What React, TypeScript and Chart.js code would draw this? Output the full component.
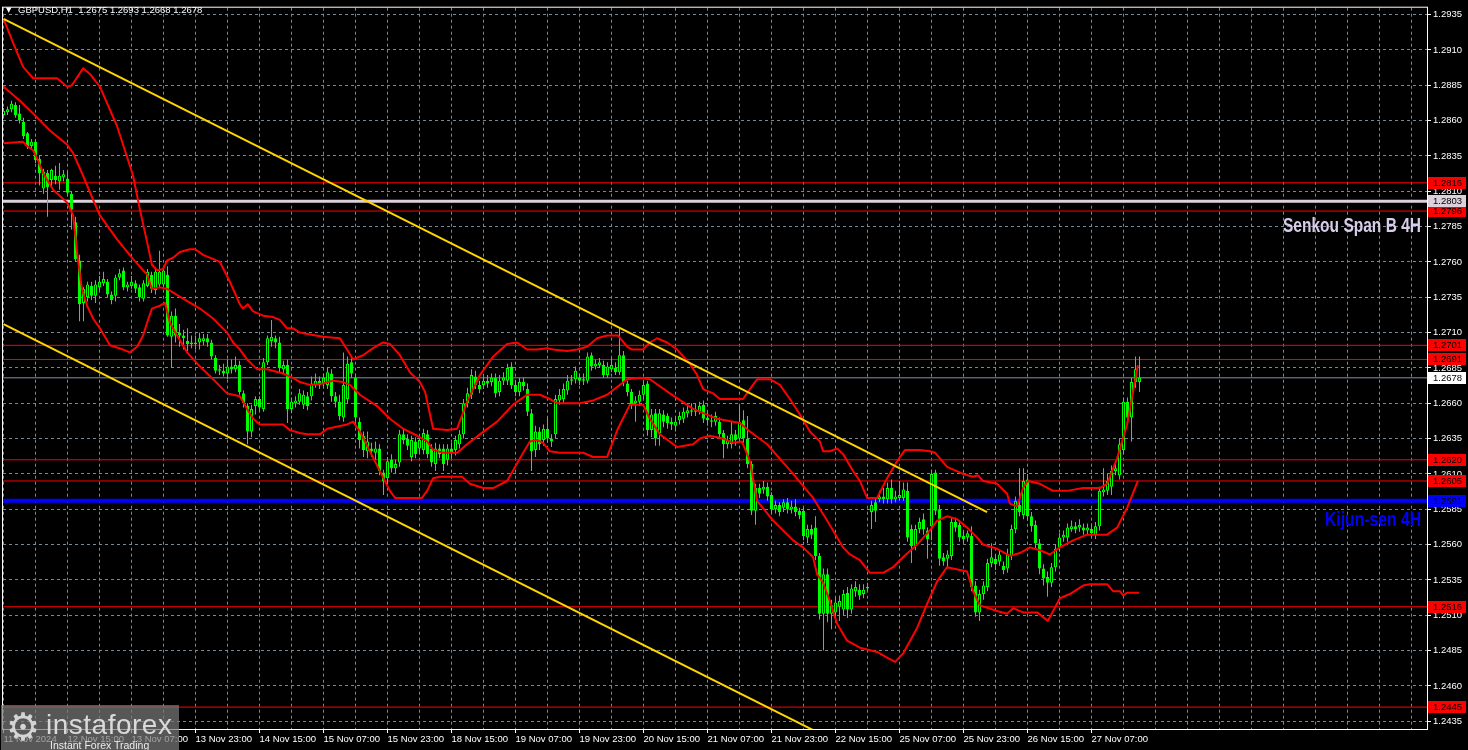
import React, { useEffect, useRef } from 'react';
import { Chart, registerables } from 'chart.js';

Chart.register(...registerables);

// ---------- candle data (GBPUSD H1, one bar per hour, index 0 = 11 Nov 23:00) ----------
const opens = [
  1.2864, 1.2866, 1.2868, 1.2871, 1.2865, 1.2859, 1.2851, 1.2842, 1.2845, 1.2833,
  1.2812, 1.2823, 1.2818, 1.2821, 1.2817, 1.2820, 1.2819, 1.2808, 1.2788, 1.2761,
  1.2731, 1.2735, 1.2743, 1.2736, 1.2742, 1.2745, 1.2746, 1.2737, 1.2736, 1.2749,
  1.2754, 1.2742, 1.2743, 1.2745, 1.2742, 1.2734, 1.2743, 1.2751, 1.2740, 1.2744,
  1.2744, 1.2751, 1.2707, 1.2722, 1.2710, 1.2708, 1.2704, 1.2702, 1.2703, 1.2703,
  1.2704, 1.2706, 1.2703, 1.2692, 1.2684, 1.2683, 1.2681, 1.2686, 1.2684, 1.2687,
  1.2667, 1.2658, 1.2640, 1.2658, 1.2663, 1.2656, 1.2689, 1.2704, 1.2706, 1.2703,
  1.2684, 1.2687, 1.2656, 1.2660, 1.2661, 1.2659, 1.2665, 1.2665, 1.2673, 1.2676,
  1.2674, 1.2673, 1.2681, 1.2665, 1.2661, 1.2650, 1.2663, 1.2689, 1.2678, 1.2647,
  1.2637, 1.2626, 1.2628, 1.2625, 1.2628, 1.2611, 1.2607, 1.2620, 1.2614, 1.2618,
  1.2638, 1.2635, 1.2622, 1.2633, 1.2628, 1.2627, 1.2638, 1.2628, 1.2617, 1.2628,
  1.2628, 1.2620, 1.2628, 1.2627, 1.2631, 1.2638, 1.2660, 1.2666, 1.2679, 1.2673,
  1.2673, 1.2676, 1.2675, 1.2678, 1.2668, 1.2676, 1.2676, 1.2686, 1.2673, 1.2668,
  1.2675, 1.2670, 1.2653, 1.2627, 1.2640, 1.2634, 1.2642, 1.2635, 1.2638, 1.2662,
  1.2663, 1.2669, 1.2676, 1.2677, 1.2678, 1.2676, 1.2676, 1.2694, 1.2686, 1.2687,
  1.2687, 1.2680, 1.2684, 1.2685, 1.2682, 1.2694, 1.2674, 1.2668, 1.2660, 1.2661,
  1.2666, 1.2674, 1.2641, 1.2653, 1.2639, 1.2652, 1.2651, 1.2647, 1.2644, 1.2648,
  1.2649, 1.2653, 1.2655, 1.2654, 1.2654, 1.2659, 1.2650, 1.2648, 1.2647, 1.2647,
  1.2639, 1.2631, 1.2631, 1.2638, 1.2635, 1.2648, 1.2635, 1.2617, 1.2584, 1.2600,
  1.2599, 1.2601, 1.2595, 1.2585, 1.2588, 1.2586, 1.2590, 1.2585, 1.2587, 1.2584,
  1.2584, 1.2565, 1.2571, 1.2572, 1.2552, 1.2511, 1.2539, 1.2511, 1.2512, 1.2516,
  1.2514, 1.2526, 1.2514, 1.2527, 1.2528, 1.2525, 1.2529, 1.2583, 1.2590, 1.2592,
  1.2594, 1.2592, 1.2600, 1.2592, 1.2593, 1.2593, 1.2598, 1.2571, 1.2559, 1.2571,
  1.2578, 1.2570, 1.2573, 1.2611, 1.2585, 1.2551, 1.2550, 1.2552, 1.2576, 1.2574,
  1.2566, 1.2565, 1.2566, 1.2531, 1.2512, 1.2525, 1.2530, 1.2547, 1.2550, 1.2548,
  1.2545, 1.2543, 1.2552, 1.2571, 1.2588, 1.2581, 1.2606, 1.2580, 1.2574, 1.2561,
  1.2543, 1.2537, 1.2533, 1.2544, 1.2558, 1.2565, 1.2565, 1.2571, 1.2573, 1.2572,
  1.2572, 1.2570, 1.2571, 1.2567, 1.2573, 1.2597, 1.2598, 1.2601, 1.2612, 1.2609,
  1.2627, 1.2661, 1.2650, 1.2675, 1.2675,
];
const highs = [
  1.2869, 1.2870, 1.2874, 1.2873, 1.2871, 1.2862, 1.2852, 1.2847, 1.2847, 1.2835,
  1.2826, 1.2825, 1.2826, 1.2828, 1.2830, 1.2825, 1.2824, 1.2810, 1.2792, 1.2765,
  1.2742, 1.2746, 1.2746, 1.2747, 1.2750, 1.2753, 1.2748, 1.2739, 1.2751, 1.2755,
  1.2756, 1.2746, 1.2750, 1.2747, 1.2744, 1.2747, 1.2755, 1.2753, 1.2756, 1.2768,
  1.2757, 1.2757, 1.2725, 1.2727, 1.2716, 1.2712, 1.2713, 1.2708, 1.2708, 1.2710,
  1.2709, 1.2709, 1.2705, 1.2694, 1.2687, 1.2688, 1.2691, 1.2691, 1.2693, 1.2690,
  1.2669, 1.2660, 1.2659, 1.2665, 1.2665, 1.2692, 1.2708, 1.2719, 1.2708, 1.2707,
  1.2690, 1.2691, 1.2664, 1.2665, 1.2670, 1.2669, 1.2668, 1.2679, 1.2681, 1.2679,
  1.2681, 1.2685, 1.2684, 1.2668, 1.2666, 1.2696, 1.2693, 1.2692, 1.2681, 1.2650,
  1.2640, 1.2640, 1.2632, 1.2633, 1.2631, 1.2613, 1.2622, 1.2624, 1.2620, 1.2641,
  1.2642, 1.2638, 1.2637, 1.2636, 1.2637, 1.2642, 1.2641, 1.2631, 1.2632, 1.2631,
  1.2631, 1.2631, 1.2632, 1.2637, 1.2641, 1.2663, 1.2671, 1.2684, 1.2683, 1.2676,
  1.2679, 1.2680, 1.2681, 1.2681, 1.2680, 1.2682, 1.2688, 1.2689, 1.2676, 1.2678,
  1.2678, 1.2674, 1.2656, 1.2644, 1.2643, 1.2645, 1.2650, 1.2638, 1.2666, 1.2670,
  1.2674, 1.2680, 1.2680, 1.2686, 1.2681, 1.2681, 1.2696, 1.2696, 1.2691, 1.2692,
  1.2690, 1.2689, 1.2692, 1.2689, 1.2713, 1.2697, 1.2676, 1.2670, 1.2665, 1.2669,
  1.2676, 1.2676, 1.2656, 1.2656, 1.2656, 1.2655, 1.2653, 1.2650, 1.2651, 1.2654,
  1.2657, 1.2659, 1.2660, 1.2660, 1.2661, 1.2662, 1.2654, 1.2652, 1.2654, 1.2650,
  1.2641, 1.2637, 1.2647, 1.2641, 1.2658, 1.2655, 1.2651, 1.2619, 1.2603, 1.2603,
  1.2605, 1.2604, 1.2597, 1.2591, 1.2590, 1.2592, 1.2593, 1.2591, 1.2592, 1.2586,
  1.2586, 1.2574, 1.2574, 1.2580, 1.2554, 1.2543, 1.2543, 1.2521, 1.2523, 1.2524,
  1.2528, 1.2530, 1.2532, 1.2534, 1.2532, 1.2532, 1.2533, 1.2591, 1.2592, 1.2598,
  1.2600, 1.2604, 1.2606, 1.2598, 1.2605, 1.2604, 1.2604, 1.2574, 1.2574, 1.2579,
  1.2582, 1.2572, 1.2613, 1.2613, 1.2588, 1.2554, 1.2556, 1.2579, 1.2579, 1.2577,
  1.2569, 1.2570, 1.2573, 1.2534, 1.2528, 1.2534, 1.2550, 1.2561, 1.2553, 1.2556,
  1.2548, 1.2557, 1.2574, 1.2594, 1.2614, 1.2614, 1.2610, 1.2583, 1.2577, 1.2564,
  1.2546, 1.2541, 1.2547, 1.2560, 1.2568, 1.2570, 1.2575, 1.2577, 1.2576, 1.2578,
  1.2575, 1.2575, 1.2575, 1.2576, 1.2601, 1.2614, 1.2610, 1.2616, 1.2617, 1.2635,
  1.2664, 1.2664, 1.2678, 1.2693, 1.2693,
];
const lows = [
  1.2862, 1.2864, 1.2866, 1.2862, 1.2858, 1.2847, 1.2840, 1.2840, 1.2830, 1.2814,
  1.2808, 1.2792, 1.2813, 1.2815, 1.2811, 1.2817, 1.2807, 1.2783, 1.2760, 1.2718,
  1.2718, 1.2732, 1.2733, 1.2731, 1.2740, 1.2743, 1.2735, 1.2730, 1.2732, 1.2747,
  1.2740, 1.2739, 1.2741, 1.2738, 1.2732, 1.2732, 1.2742, 1.2738, 1.2737, 1.2742,
  1.2742, 1.2707, 1.2685, 1.2703, 1.2700, 1.2698, 1.2697, 1.2699, 1.2698, 1.2698,
  1.2701, 1.2700, 1.2691, 1.2681, 1.2680, 1.2679, 1.2677, 1.2681, 1.2682, 1.2666,
  1.2657, 1.2631, 1.2636, 1.2652, 1.2654, 1.2654, 1.2687, 1.2700, 1.2699, 1.2682,
  1.2681, 1.2646, 1.2653, 1.2657, 1.2659, 1.2656, 1.2655, 1.2662, 1.2671, 1.2670,
  1.2671, 1.2670, 1.2661, 1.2657, 1.2648, 1.2647, 1.2660, 1.2678, 1.2647, 1.2628,
  1.2622, 1.2621, 1.2622, 1.2620, 1.2609, 1.2595, 1.2603, 1.2611, 1.2610, 1.2615,
  1.2631, 1.2627, 1.2619, 1.2621, 1.2625, 1.2624, 1.2621, 1.2615, 1.2612, 1.2621,
  1.2612, 1.2616, 1.2621, 1.2623, 1.2628, 1.2635, 1.2657, 1.2663, 1.2670, 1.2667,
  1.2670, 1.2671, 1.2672, 1.2664, 1.2665, 1.2673, 1.2673, 1.2670, 1.2665, 1.2665,
  1.2669, 1.2651, 1.2612, 1.2622, 1.2627, 1.2630, 1.2632, 1.2629, 1.2635, 1.2659,
  1.2660, 1.2666, 1.2673, 1.2674, 1.2673, 1.2673, 1.2674, 1.2683, 1.2684, 1.2685,
  1.2678, 1.2678, 1.2682, 1.2680, 1.2680, 1.2672, 1.2665, 1.2656, 1.2647, 1.2658,
  1.2663, 1.2637, 1.2636, 1.2630, 1.2630, 1.2643, 1.2642, 1.2641, 1.2640, 1.2645,
  1.2646, 1.2650, 1.2651, 1.2651, 1.2652, 1.2646, 1.2644, 1.2643, 1.2644, 1.2635,
  1.2621, 1.2628, 1.2628, 1.2630, 1.2632, 1.2632, 1.2614, 1.2581, 1.2574, 1.2593,
  1.2596, 1.2591, 1.2582, 1.2582, 1.2580, 1.2583, 1.2582, 1.2582, 1.2580, 1.2578,
  1.2563, 1.2561, 1.2564, 1.2549, 1.2507, 1.2485, 1.2505, 1.2500, 1.2508, 1.2506,
  1.2510, 1.2508, 1.2511, 1.2523, 1.2521, 1.2522, 1.2527, 1.2571, 1.2576, 1.2590,
  1.2589, 1.2589, 1.2589, 1.2590, 1.2591, 1.2591, 1.2562, 1.2547, 1.2556, 1.2568,
  1.2567, 1.2550, 1.2563, 1.2581, 1.2545, 1.2545, 1.2543, 1.2549, 1.2569, 1.2562,
  1.2561, 1.2562, 1.2527, 1.2509, 1.2506, 1.2521, 1.2527, 1.2544, 1.2542, 1.2545,
  1.2539, 1.2540, 1.2549, 1.2568, 1.2580, 1.2578, 1.2577, 1.2569, 1.2557, 1.2539,
  1.2531, 1.2523, 1.2530, 1.2541, 1.2555, 1.2562, 1.2562, 1.2569, 1.2568, 1.2569,
  1.2567, 1.2567, 1.2565, 1.2564, 1.2570, 1.2594, 1.2595, 1.2595, 1.2609, 1.2606,
  1.2624, 1.2646, 1.2633, 1.2671, 1.2668,
];
const closes = [
  1.2867, 1.2868, 1.2872, 1.2864, 1.2860, 1.2849, 1.2842, 1.2845, 1.2832, 1.2823,
  1.2824, 1.2813, 1.2825, 1.2818, 1.2821, 1.2822, 1.2809, 1.2797, 1.2762, 1.2730,
  1.2741, 1.2744, 1.2736, 1.2744, 1.2746, 1.2748, 1.2737, 1.2733, 1.2749, 1.2752,
  1.2742, 1.2744, 1.2746, 1.2741, 1.2735, 1.2745, 1.2753, 1.2741, 1.2753, 1.2753,
  1.2754, 1.2708, 1.2722, 1.2708, 1.2708, 1.2706, 1.2702, 1.2703, 1.2702, 1.2706,
  1.2706, 1.2703, 1.2693, 1.2683, 1.2683, 1.2681, 1.2686, 1.2684, 1.2687, 1.2668,
  1.2660, 1.2640, 1.2656, 1.2663, 1.2657, 1.2689, 1.2706, 1.2707, 1.2703, 1.2685,
  1.2687, 1.2656, 1.2661, 1.2662, 1.2667, 1.2666, 1.2658, 1.2674, 1.2676, 1.2673,
  1.2678, 1.2682, 1.2665, 1.2661, 1.2651, 1.2673, 1.2688, 1.2681, 1.2650, 1.2634,
  1.2627, 1.2633, 1.2626, 1.2628, 1.2612, 1.2605, 1.2619, 1.2614, 1.2617, 1.2638,
  1.2634, 1.2630, 1.2634, 1.2624, 1.2634, 1.2639, 1.2624, 1.2618, 1.2628, 1.2624,
  1.2617, 1.2628, 1.2625, 1.2634, 1.2638, 1.2660, 1.2667, 1.2680, 1.2673, 1.2670,
  1.2676, 1.2674, 1.2678, 1.2667, 1.2676, 1.2678, 1.2685, 1.2673, 1.2668, 1.2675,
  1.2672, 1.2654, 1.2626, 1.2640, 1.2631, 1.2642, 1.2635, 1.2633, 1.2663, 1.2666,
  1.2670, 1.2676, 1.2677, 1.2683, 1.2676, 1.2677, 1.2693, 1.2686, 1.2688, 1.2689,
  1.2680, 1.2686, 1.2687, 1.2682, 1.2694, 1.2675, 1.2668, 1.2659, 1.2662, 1.2666,
  1.2673, 1.2641, 1.2652, 1.2635, 1.2653, 1.2647, 1.2646, 1.2645, 1.2647, 1.2651,
  1.2654, 1.2655, 1.2654, 1.2655, 1.2658, 1.2649, 1.2648, 1.2647, 1.2651, 1.2638,
  1.2631, 1.2634, 1.2638, 1.2634, 1.2647, 1.2635, 1.2617, 1.2584, 1.2600, 1.2596,
  1.2601, 1.2594, 1.2585, 1.2588, 1.2583, 1.2590, 1.2585, 1.2587, 1.2583, 1.2581,
  1.2566, 1.2571, 1.2567, 1.2552, 1.2511, 1.2539, 1.2511, 1.2517, 1.2519, 1.2520,
  1.2525, 1.2514, 1.2529, 1.2530, 1.2524, 1.2528, 1.2530, 1.2588, 1.2584, 1.2594,
  1.2592, 1.2600, 1.2592, 1.2594, 1.2595, 1.2599, 1.2565, 1.2559, 1.2571, 1.2576,
  1.2571, 1.2564, 1.2610, 1.2584, 1.2550, 1.2548, 1.2553, 1.2576, 1.2572, 1.2565,
  1.2564, 1.2568, 1.2530, 1.2512, 1.2525, 1.2531, 1.2547, 1.2551, 1.2546, 1.2553,
  1.2542, 1.2553, 1.2571, 1.2591, 1.2583, 1.2605, 1.2580, 1.2573, 1.2561, 1.2543,
  1.2536, 1.2533, 1.2544, 1.2557, 1.2565, 1.2567, 1.2572, 1.2573, 1.2571, 1.2574,
  1.2570, 1.2572, 1.2568, 1.2573, 1.2598, 1.2599, 1.2605, 1.2612, 1.2614, 1.2631,
  1.2661, 1.2650, 1.2675, 1.2684, 1.2678,
];

// ---------- time axis labels (one every 16 bars) ----------
const xTickLabels = [
  '11 Nov 2024', '12 Nov 15:00', '13 Nov 07:00', '13 Nov 23:00', '14 Nov 15:00', '15 Nov 07:00',
  '15 Nov 23:00', '18 Nov 15:00', '19 Nov 07:00', '19 Nov 23:00', '20 Nov 15:00', '21 Nov 07:00',
  '21 Nov 23:00', '22 Nov 15:00', '25 Nov 07:00', '25 Nov 23:00', '26 Nov 15:00', '27 Nov 07:00',
];
const yTickValues = [
  1.2435, 1.2460, 1.2485, 1.2510, 1.2535, 1.2560, 1.2585, 1.2610, 1.2635, 1.2660, 1.2685,
  1.2710, 1.2735, 1.2760, 1.2785, 1.2810, 1.2835, 1.2860, 1.2885, 1.2910, 1.2935,
];

// ---------- indicator curves [bar index, price] ----------
const upperBand = [
  [0, 1.2932], [2.4, 1.2915], [4.9, 1.2898], [7.4, 1.2890], [13.4, 1.2890], [15.9, 1.2884], [17.1, 1.2885],
  [19.9, 1.2897], [21.6, 1.2893], [24.1, 1.2884], [28.4, 1.2856], [32.4, 1.2821], [34.1, 1.2797], [35.9, 1.2774],
  [37.1, 1.2758], [38.4, 1.2754], [39.9, 1.2755], [40.9, 1.2761], [42.4, 1.2763], [44.1, 1.2767], [46.6, 1.2769],
  [47.9, 1.2769], [49.9, 1.2765], [54.1, 1.2760], [56.6, 1.2746], [59.1, 1.2730], [59.9, 1.2727], [61.1, 1.2730],
  [62.4, 1.2725], [64.9, 1.2722], [67.4, 1.2721], [69.1, 1.2719], [70.9, 1.2713], [72.4, 1.2713], [74.1, 1.2710],
  [75.9, 1.2709], [79.9, 1.2707], [84.1, 1.2706], [85.9, 1.2698], [87.4, 1.2691], [89.9, 1.2694], [92.4, 1.2699],
  [94.9, 1.2703], [96.6, 1.2702], [99.1, 1.2694], [101.6, 1.2682], [104.1, 1.2675], [105.4, 1.2668], [107.4, 1.2642],
  [110.9, 1.2641], [113.4, 1.2642], [115.9, 1.2661], [119.1, 1.2680], [122.4, 1.2693], [125.9, 1.2702], [128.4, 1.2703],
  [130.9, 1.2698], [133.4, 1.2698], [135.9, 1.2699], [137.4, 1.2698], [140.9, 1.2697], [143.4, 1.2698], [145.9, 1.2700],
  [148.4, 1.2706], [150.9, 1.2708], [153.6, 1.2708], [155.9, 1.2700], [157.1, 1.2698], [159.9, 1.2698], [161.6, 1.2703],
  [163.4, 1.2706], [165.9, 1.2703], [168.4, 1.2698], [171.6, 1.2688], [173.4, 1.2680], [174.9, 1.2670], [177.4, 1.2667],
  [179.1, 1.2663], [184.9, 1.2663], [186.6, 1.2670], [188.4, 1.2677], [191.6, 1.2677], [194.1, 1.2673], [196.6, 1.2663],
  [199.1, 1.2652], [201.6, 1.2640], [204.1, 1.2633], [204.9, 1.2626], [206.6, 1.2626], [208.4, 1.2628], [209.9, 1.2624],
  [212.4, 1.2612], [214.1, 1.2605], [215.9, 1.2593], [218.4, 1.2593], [220.9, 1.2607], [223.4, 1.2619], [225.4, 1.2627],
  [229.1, 1.2627], [231.6, 1.2626], [232.9, 1.2625], [235.9, 1.2615], [239.9, 1.2610], [242.4, 1.2608], [243.6, 1.2609],
  [244.9, 1.2605], [248.4, 1.2603], [250.9, 1.2596], [251.6, 1.2589], [253.4, 1.2587], [254.9, 1.2600], [256.1, 1.2605],
  [259.1, 1.2603], [262.4, 1.2598], [265.9, 1.2598], [269.9, 1.2600], [274.1, 1.2600], [275.9, 1.2603], [278.4, 1.2621],
  [280.9, 1.2645], [283.6, 1.2687],
];
const middleBand = [
  [0, 1.2884], [4.1, 1.2874], [7.4, 1.2865], [11.6, 1.2853], [15.9, 1.2843], [17.4, 1.2837], [19.9, 1.2821],
  [22.4, 1.2804], [24.1, 1.2793], [28.4, 1.2776], [32.4, 1.2762], [35.9, 1.2751], [37.1, 1.2741], [39.1, 1.2742],
  [40.9, 1.2741], [44.9, 1.2734], [49.1, 1.2727], [52.4, 1.2720], [55.9, 1.2710], [57.4, 1.2703], [59.1, 1.2698],
  [60.9, 1.2691], [63.4, 1.2684], [65.9, 1.2684], [69.9, 1.2681], [72.4, 1.2678], [74.1, 1.2675], [76.6, 1.2673],
  [79.9, 1.2674], [82.4, 1.2676], [84.9, 1.2675], [86.6, 1.2673], [89.1, 1.2666], [93.4, 1.2658], [96.6, 1.2649],
  [99.9, 1.2642], [103.4, 1.2637], [105.9, 1.2633], [107.4, 1.2627], [109.9, 1.2625], [113.4, 1.2625], [115.9, 1.2631],
  [119.1, 1.2638], [123.4, 1.2647], [127.4, 1.2659], [130.9, 1.2666], [134.1, 1.2666], [136.6, 1.2663], [138.4, 1.2660],
  [144.1, 1.2660], [147.4, 1.2662], [150.9, 1.2666], [155.9, 1.2677], [159.1, 1.2678], [161.6, 1.2677], [166.6, 1.2667],
  [172.4, 1.2656], [178.4, 1.2649], [184.1, 1.2646], [186.6, 1.2640], [190.9, 1.2631], [197.4, 1.2610], [202.4, 1.2593],
  [205.9, 1.2577], [209.9, 1.2558], [211.6, 1.2553], [214.1, 1.2549], [216.6, 1.2540], [219.9, 1.2540], [222.4, 1.2544],
  [224.9, 1.2551], [228.4, 1.2560], [231.6, 1.2570], [233.4, 1.2577], [235.9, 1.2580], [238.4, 1.2578], [240.9, 1.2572],
  [243.4, 1.2565], [244.9, 1.2560], [248.4, 1.2557], [251.6, 1.2552], [254.1, 1.2554], [256.6, 1.2558], [259.1, 1.2556],
  [261.6, 1.2553], [264.1, 1.2558], [267.4, 1.2563], [270.9, 1.2567], [275.9, 1.2567], [278.4, 1.2572], [280.9, 1.2586],
  [283.6, 1.2605],
];
const lowerBand = [
  [0, 1.2844], [4.9, 1.2845], [5.9, 1.2842], [7.4, 1.2839], [8.6, 1.2832], [9.9, 1.2823], [12.4, 1.2811],
  [15.9, 1.2802], [17.4, 1.2793], [18.6, 1.2762], [19.6, 1.2741], [20.9, 1.2729], [22.4, 1.2720], [24.1, 1.2713],
  [26.6, 1.2701], [29.9, 1.2698], [31.6, 1.2696], [33.4, 1.2700], [34.9, 1.2708], [35.9, 1.2717], [37.1, 1.2727],
  [39.1, 1.2729], [40.4, 1.2731], [41.6, 1.2717], [43.4, 1.2708], [45.9, 1.2696], [49.1, 1.2686], [52.4, 1.2677],
  [55.9, 1.2667], [59.1, 1.2665], [60.9, 1.2656], [62.4, 1.2649], [64.1, 1.2645], [69.9, 1.2645], [71.6, 1.2641],
  [74.1, 1.2639], [75.9, 1.2638], [79.1, 1.2638], [80.9, 1.2642], [85.9, 1.2645], [87.4, 1.2647], [89.1, 1.2640],
  [91.6, 1.2626], [94.1, 1.2612], [96.6, 1.2598], [97.9, 1.2593], [104.6, 1.2593], [105.9, 1.2598], [107.4, 1.2607],
  [109.1, 1.2608], [114.6, 1.2608], [116.6, 1.2603], [119.9, 1.2600], [122.4, 1.2600], [125.9, 1.2605], [129.1, 1.2621],
  [131.6, 1.2633], [133.4, 1.2634], [134.9, 1.2632], [136.6, 1.2626], [139.1, 1.2625], [144.9, 1.2625], [147.4, 1.2622],
  [150.9, 1.2622], [153.6, 1.2642], [156.6, 1.2659], [159.9, 1.2659], [161.6, 1.2649], [164.1, 1.2638], [168.4, 1.2629],
  [172.4, 1.2631], [174.1, 1.2635], [176.6, 1.2637], [179.9, 1.2635], [182.4, 1.2632], [184.6, 1.2633], [186.6, 1.2619],
  [188.4, 1.2591], [192.4, 1.2577], [197.4, 1.2563], [199.9, 1.2558], [202.4, 1.2551], [203.4, 1.2539], [204.9, 1.2533],
  [206.6, 1.2520], [208.4, 1.2504], [210.9, 1.2492], [214.1, 1.2487], [218.4, 1.2484], [220.9, 1.2480], [222.9, 1.2477],
  [224.9, 1.2483], [228.4, 1.2501], [230.9, 1.2518], [233.4, 1.2534], [235.9, 1.2544], [240.9, 1.2541], [242.4, 1.2527],
  [244.1, 1.2517], [248.4, 1.2513], [250.9, 1.2511], [252.4, 1.2515], [254.9, 1.2512], [258.4, 1.2512], [261.1, 1.2506],
  [264.1, 1.2522], [266.6, 1.2525], [269.9, 1.2531], [271.6, 1.2532], [275.9, 1.2532], [277.4, 1.2527], [279.1, 1.2527],
  [279.9, 1.2524], [280.9, 1.2526], [283.9, 1.2526],
];

// ---------- trend channel ----------
const channelTop = [[0, 1.2932], [245.9, 1.2583]];
const channelBottom = [[0, 1.2716], [245.9, 1.2367]];

// ---------- horizontal levels ----------
const redLevels = [1.2816, 1.2796, 1.2701, 1.2691, 1.2620, 1.2605, 1.2516, 1.2445];
const senkouSpanB4H = 1.2803;
const kijunSen4H = 1.2591;
const lastPrice = 1.2678;
const headerQuote = ['1.2675', '1.2693', '1.2668', '1.2678'];

const X_MIN = -0.125;
const X_MAX = 355.875;
const Y_MIN = 1.24295;
const Y_MAX = 1.29399;
const LABEL_STEP = 16;
const GRID_STEP = 8;
const SENKOU_TEXT_AT = 1.27815;
const KIJUN_TEXT_AT = 1.25731;

const GREEN = '#00ff00';
const GRID = '#778899';
const AXIS_FONT = { family: '"Liberation Sans", Arial, sans-serif', size: 9.5 };

const toXY = (pts: number[][]) => pts.map(([x, y]) => ({ x, y }));
const lineDs = (pts: number[][], color: string, width: number, order: number) => ({
  type: 'line' as const,
  data: toXY(pts),
  borderColor: color,
  borderWidth: width,
  pointRadius: 0,
  pointHoverRadius: 0,
  tension: 0,
  fill: false,
  order,
  borderJoinStyle: 'round' as const,
});
const levelDs = (v: number, color: string, width: number) => lineDs([[X_MIN, v], [X_MAX, v]], color, width, 40);

const priceBoxes = [
  ...redLevels.map((v) => ({ v, bg: '#ff0000', fg: '#000000' })),
  { v: senkouSpanB4H, bg: '#dcd0dc', fg: '#000000' },
  { v: kijunSen4H, bg: '#0000ff', fg: '#000000' },
  { v: lastPrice, bg: '#ffffff', fg: '#000000' },
];

const annotations = [
  { text: 'Senkou Span B 4H', at: SENKOU_TEXT_AT, color: '#d8cce8', width: 138 },
  { text: 'Kijun-sen 4H', at: KIJUN_TEXT_AT, color: '#0000ff', width: 96 },
];

const overlayPlugin = {
  id: 'mtOverlay',
  afterDraw(chart: any) {
    const { ctx, chartArea: a } = chart;
    const y = chart.scales.y;
    ctx.save();
    ctx.strokeStyle = '#ffffff';
    ctx.lineWidth = 1;
    ctx.strokeRect(a.left - 0.5, a.top - 0.5, a.right - a.left + 1, a.bottom - a.top + 1);

    ctx.font = 'bold 21px "Liberation Sans", Arial, sans-serif';
    ctx.textAlign = 'right';
    ctx.textBaseline = 'alphabetic';
    for (const an of annotations) {
      const w = ctx.measureText(an.text).width;
      ctx.save();
      ctx.translate(a.right - 6, y.getPixelForValue(an.at));
      ctx.scale(an.width / w, 1);
      ctx.fillStyle = an.color;
      ctx.fillText(an.text, 0, 0);
      ctx.restore();
    }

    ctx.font = '9.5px "Liberation Sans", Arial, sans-serif';
    ctx.textAlign = 'left';
    ctx.textBaseline = 'middle';
    for (const b of priceBoxes) {
      const py = Math.round(y.getPixelForValue(b.v));
      ctx.fillStyle = b.bg;
      ctx.fillRect(a.right + 1, py - 6, 38, 12);
      ctx.fillStyle = b.fg;
      ctx.fillText(b.v.toFixed(4), a.right + 6, py + 0.5);
    }
    ctx.restore();
  },
};

export default function App() {
  const canvasRef = useRef<HTMLCanvasElement | null>(null);

  useEffect(() => {
    const canvas = canvasRef.current;
    if (!canvas) return;

    const wickData = highs.map((h, i) => ({ x: i, y: [lows[i], h] }));
    const bodyData = opens.map((o, i) => ({ x: i, y: [o, closes[i]] }));
    const bodyFill = opens.map((o, i) => (closes[i] >= o ? '#000000' : GREEN));

    const datasets: any[] = [
      ...redLevels.map((v) => levelDs(v, '#ff0000', 1)),
      levelDs(senkouSpanB4H, '#dcd0dc', 3),
      levelDs(kijunSen4H, '#0000ff', 4),
      levelDs(lastPrice, '#8394a8', 1),
      {
        type: 'bar', data: wickData, backgroundColor: GREEN, borderWidth: 0, barThickness: 1,
        grouped: false, inflateAmount: 0, order: 30,
      },
      {
        type: 'bar', data: bodyData, backgroundColor: bodyFill, borderColor: GREEN, borderWidth: 1,
        borderSkipped: false, barThickness: 3, grouped: false, inflateAmount: 0, minBarLength: 1, order: 25,
      },
      lineDs(upperBand, '#ff0000', 2, 10),
      lineDs(middleBand, '#ff0000', 2, 10),
      lineDs(lowerBand, '#ff0000', 2, 10),
      lineDs(channelTop, '#ffd700', 2, 5),
      lineDs(channelBottom, '#ffd700', 2, 5),
    ];

    const labelAt = (v: number) => {
      const k = v / LABEL_STEP;
      return Number.isInteger(k) && k < xTickLabels.length ? xTickLabels[k] : '';
    };

    const chart = new Chart(canvas, {
      type: 'bar',
      data: { datasets },
      options: {
        animation: false,
        responsive: false,
        events: [],
        layout: { padding: { left: 3, top: 4, right: 0, bottom: 0 } },
        plugins: { legend: { display: false }, tooltip: { enabled: false }, title: { display: false } },
        scales: {
          x: {
            type: 'linear',
            min: X_MIN,
            max: X_MAX,
            offset: false,
            afterBuildTicks: (s: any) => {
              const t = [];
              for (let v = 0; v <= X_MAX; v += GRID_STEP) t.push({ value: v });
              s.ticks = t;
            },
            afterFit: (s: any) => { s.height = 21; },
            ticks: {
              autoSkip: false,
              maxRotation: 0,
              minRotation: 0,
              align: 'start',
              color: '#ffffff',
              padding: 1,
              font: AXIS_FONT,
              callback: (v: any) => labelAt(Number(v)),
            },
            grid: {
              offset: false,
              color: GRID,
              lineWidth: 1,
              drawTicks: true,
              tickLength: 4,
              tickColor: (c: any) => (c.tick && labelAt(c.tick.value) ? '#ffffff' : 'rgba(0,0,0,0)'),
            },
            border: { display: false, dash: [3, 3] },
          },
          y: {
            type: 'linear',
            position: 'right',
            min: Y_MIN,
            max: Y_MAX,
            beginAtZero: false,
            afterBuildTicks: (s: any) => { s.ticks = yTickValues.map((value) => ({ value })); },
            afterFit: (s: any) => { s.width = 41; },
            ticks: {
              color: '#ffffff',
              padding: 2,
              font: AXIS_FONT,
              callback: (v: any) => Number(v).toFixed(4),
            },
            grid: { color: GRID, lineWidth: 1, drawTicks: true, tickLength: 4, tickColor: '#ffffff' },
            border: { display: false, dash: [3, 3] },
          },
        },
      },
      plugins: [overlayPlugin],
    } as any);

    return () => chart.destroy();
  }, []);

  return (
    <div style={{ position: 'fixed', left: 0, top: 0, width: 1468, height: 750, background: '#000', overflow: 'hidden' }}>
      <canvas ref={canvasRef} width={1468} height={750} style={{ position: 'absolute', left: 0, top: 0 }} />
      <div style={{ position: 'absolute', left: 6, top: 6, color: '#fff', fontSize: 7, lineHeight: '8px', fontFamily: 'DejaVu Sans, sans-serif' }}>▼</div>
      <div style={{ position: 'absolute', left: 18, top: 4, color: '#fff', fontSize: 9.5, lineHeight: '12px', fontFamily: '"Liberation Sans", Arial, sans-serif', whiteSpace: 'pre' }}>
        {'GBPUSD,H1  ' + headerQuote.join(' ')}
      </div>
      <div style={{ position: 'absolute', left: 1, top: 705, width: 178, height: 45, background: 'rgba(120,120,120,0.72)' }}>
        <div style={{ position: 'absolute', left: 5, top: 1, fontSize: 38, lineHeight: '42px', color: '#d4d4d4', fontFamily: 'DejaVu Sans, sans-serif' }}>⚙</div>
        <div style={{ position: 'absolute', left: 45, top: 6, fontSize: 28, lineHeight: '28px', color: '#dadada', fontFamily: '"Liberation Sans", Arial, sans-serif', letterSpacing: 0.5 }}>instaforex</div>
        <div style={{ position: 'absolute', left: 49, top: 35, fontSize: 10.5, lineHeight: '11px', color: '#ececec', fontFamily: '"Liberation Sans", Arial, sans-serif' }}>Instant Forex Trading</div>
      </div>
    </div>
  );
}
